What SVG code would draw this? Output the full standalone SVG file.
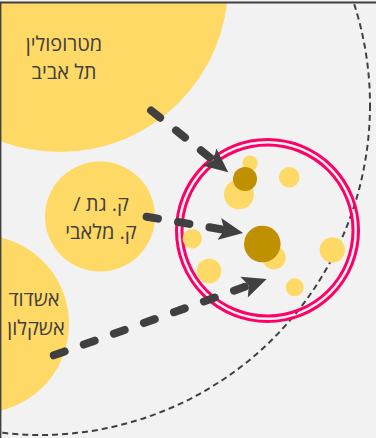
<svg xmlns="http://www.w3.org/2000/svg" width="376" height="438" viewBox="0 0 376 438">
  <style>
    .area { fill: #ffd966; }
    .town { fill: #ffd966; }
    .core { fill: #bf9000; }
    .ring { fill: none; stroke: #ff0066; stroke-width: 3; }
    .label { font-family: "Open Sans", "Liberation Sans", "DejaVu Sans", sans-serif; font-size: 20px; fill: #404040; text-anchor: middle; direction: rtl; }
    .flow { fill: none; stroke: #404040; stroke-width: 8; stroke-linecap: round; stroke-dasharray: 11.5 20.4; }
    .region { fill: none; stroke: #404040; stroke-width: 2; stroke-dasharray: 6 4; }
  </style>
  <defs>
    <clipPath id="frame">
      <rect x="0" y="2.5" width="376" height="436"/>
    </clipPath>
    <marker id="head" markerUnits="userSpaceOnUse" markerWidth="25" markerHeight="23" viewBox="0 0 25 23" refX="5" refY="11.5" orient="auto">
      <path d="M0,0.5 L24,11.5 L0,22.5 L5,11.5 Z" fill="#404040"/>
    </marker>
  </defs>
  <rect x="0" y="0" width="376" height="438" fill="#f2f2f2"/>
  <g clip-path="url(#frame)">
    <g id="region">
      <circle class="region" cx="40" cy="105" r="330"/>
    </g>
    <g id="tel-aviv">
      <circle class="area" cx="60" cy="-16" r="168"/>
      <text class="label" x="64" y="51">מטרופולין</text>
      <text class="label" x="64" y="79">תל אביב</text>
    </g>
    <g id="kiryat-gat">
      <circle class="area" cx="100" cy="216.5" r="55"/>
      <text class="label" x="101" y="211">ק. גת /</text>
      <text class="label" x="101" y="239">ק. מלאבי</text>
    </g>
    <g id="ashdod">
      <circle class="area" cx="-20" cy="324" r="89"/>
      <text class="label" x="34" y="306">אשדוד</text>
      <text class="label" x="36" y="335">אשקלון</text>
    </g>
    <g id="cluster">
      <circle class="ring" cx="267.5" cy="230.5" r="91"/>
      <circle class="ring" cx="267.5" cy="230.5" r="85.5"/>
      <circle class="town" cx="250" cy="163.3" r="7.7"/>
      <circle class="town" cx="239" cy="194.3" r="15"/>
      <circle class="core" cx="245" cy="179" r="12"/>
      <circle class="town" cx="289.3" cy="177.3" r="10.3"/>
      <circle class="town" cx="192.3" cy="238.7" r="9.7"/>
      <circle class="town" cx="274" cy="257.7" r="11.7"/>
      <circle class="core" cx="262.3" cy="244" r="18.3"/>
      <circle class="town" cx="332.3" cy="250" r="12.7"/>
      <circle class="town" cx="209" cy="271" r="12.3"/>
      <circle class="town" cx="294.7" cy="287.3" r="9"/>
    </g>
    <g id="connectors">
      <path class="flow" d="M151.1,110.5 L213.4,160.3" marker-end="url(#head)"/>
      <path class="flow" d="M146.6,216.7 L224.3,229.8" marker-end="url(#head)"/>
      <path class="flow" d="M53.8,355.3 L248.8,285.4" marker-end="url(#head)"/>
    </g>
  </g>
  <line x1="0" y1="2.5" x2="376" y2="2.5" stroke="#404040" stroke-width="2"/>
  <line x1="0.7" y1="2.5" x2="0.7" y2="438" stroke="#404040" stroke-width="1.4"/>
</svg>
